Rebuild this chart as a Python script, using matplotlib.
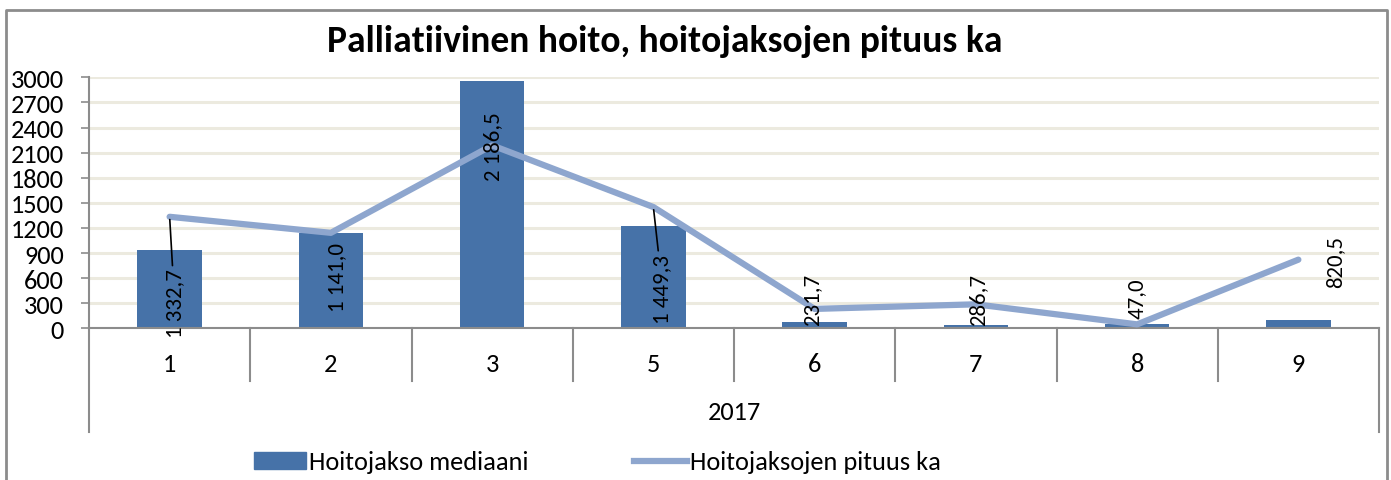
import matplotlib
matplotlib.use("Agg")
import matplotlib.pyplot as plt
from matplotlib.lines import Line2D
from matplotlib.patches import Patch

plt.rcParams["font.family"] = ["Carlito", "Lato", "DejaVu Sans"]

# Kuukaudet 2017
categories = ["1", "2", "3", "5", "6", "7", "8", "9"]
year_label = "2017"
median_days = [935, 1140, 2960, 1220, 75, 42, 46, 98]
mean_days = [1332.7, 1141.0, 2186.5, 1449.3, 231.7, 286.7, 47.0, 820.5]
y_ticks = [0, 300, 600, 900, 1200, 1500, 1800, 2100, 2400, 2700, 3000]

title = "Palliatiivinen hoito, hoitojaksojen pituus ka"
bar_name = "Hoitojakso mediaani"
line_name = "Hoitojaksojen pituus ka"

# label offsets from each line point, in pixels
label_dx = [5, 6, 1, 9, -2, 2, 0, 37]
label_dy = [-86, -44, 0, -81, 10, 5, 27, -1]
leader = [True, False, False, True, False, False, False, False]

BAR = "#4672A8"
LINE = "#8EA6CE"
GRID = "#ECEADF"
AXIS = "#8C8C8C"

W, H = 1391, 481
fig = plt.figure(figsize=(W / 100, H / 100), dpi=100)
ax = fig.add_axes([89 / W, 1 - 329.3 / H, (1379 - 89) / W, (329.3 - 78.3) / H])

x = list(range(len(categories)))
ax.bar(x, median_days, width=0.4, color=BAR, zorder=2)
ax.plot(x, mean_days, color=LINE, lw=4.5, solid_capstyle="round", zorder=3)

for i, v in enumerate(mean_days):
    txt = f"{v:,.1f}".replace(",", " ").replace(".", ",")
    kw = {}
    if leader[i]:
        kw["arrowprops"] = dict(arrowstyle="-", color="black", lw=1.2,
                                shrinkA=0, shrinkB=2)
    ax.annotate(txt, (i, v), xytext=(label_dx[i], label_dy[i]),
                textcoords="offset pixels", rotation=90,
                ha="center", va="center", fontsize=16.5, color="black",
                zorder=4, **kw)

ax.set_xlim(-0.5, len(categories) - 0.5)
ax.set_ylim(0, 3000)
ax.set_yticks(y_ticks)
ax.tick_params(axis="y", labelsize=19, length=6, width=1.2, color=AXIS, pad=12)
ax.set_xticks([])
ax.yaxis.grid(True, color=GRID, lw=2.2, zorder=0)
ax.set_axisbelow(True)
for s in ("top", "right"):
    ax.spines[s].set_visible(False)
for s in ("left", "bottom"):
    ax.spines[s].set_color(AXIS)
    ax.spines[s].set_linewidth(1.5)

# kategoria-akselin jakoviivat ja tekstit
tr = ax.get_xaxis_transform()
for i in range(len(categories) + 1):
    bottom = -0.415 if i in (0, len(categories)) else -0.21
    ax.plot([i - 0.5, i - 0.5], [0, bottom], transform=tr, color=AXIS,
            lw=1.5, clip_on=False)
for i, c in enumerate(categories):
    ax.text(i, -0.142, c, transform=tr, ha="center", va="center", fontsize=19)
ax.text((len(categories) - 1) / 2, -0.33, year_label, transform=tr,
        ha="center", va="center", fontsize=19)

fig.text(665 / W, 1 - 42 / H, title, ha="center", va="center",
         fontsize=27, fontweight="bold")

handles = [Patch(color=BAR, label=bar_name),
           Line2D([], [], color=LINE, lw=4.5, label=line_name)]
fig.legend(handles=handles, loc="center", bbox_to_anchor=(597 / W, 1 - 463 / H),
           ncol=2, frameon=False, fontsize=19, handlelength=2.0,
           handleheight=0.6, handletextpad=0.1, columnspacing=4.0)

# kaavion reunaviiva
fx = [6 / W, 6 / W, 1387 / W, 1387 / W]
fy = [0, 1 - 11 / H, 1 - 11 / H, 0]
fig.add_artist(Line2D(fx, fy, color=AXIS, lw=2, transform=fig.transFigure))

fig.savefig("out.png", dpi=100)
